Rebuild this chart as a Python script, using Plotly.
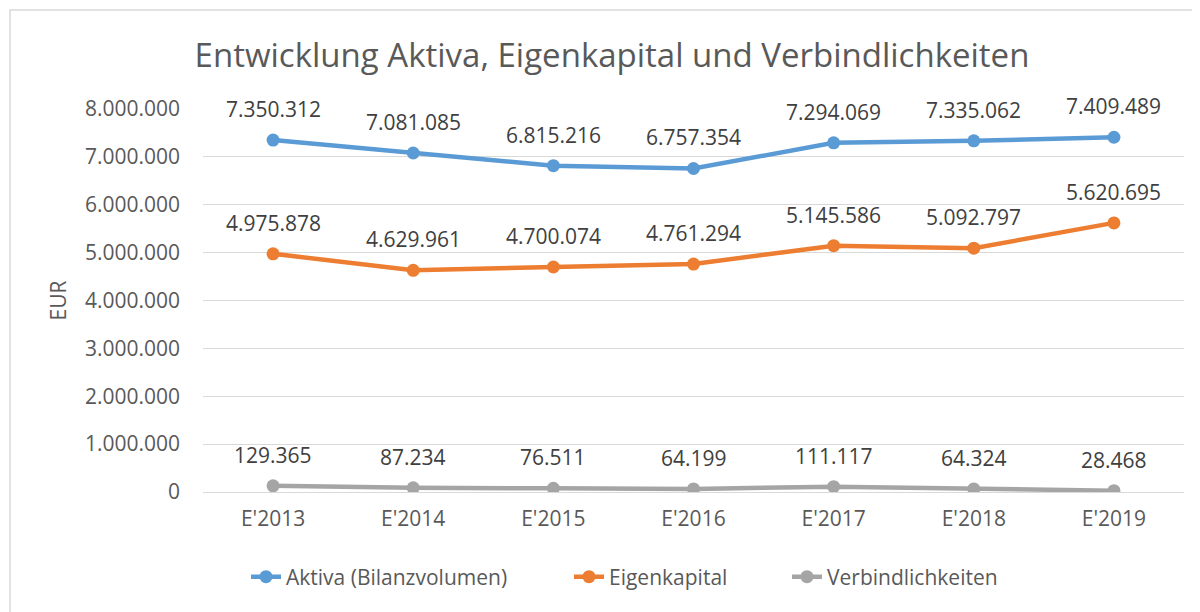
import plotly.graph_objects as go

categories = ["E'2013", "E'2014", "E'2015", "E'2016", "E'2017", "E'2018", "E'2019"]
aktiva = [7350312, 7081085, 6815216, 6757354, 7294069, 7335062, 7409489]
eigenkapital = [4975878, 4629961, 4700074, 4761294, 5145586, 5092797, 5620695]
verbindlichkeiten = [129365, 87234, 76511, 64199, 111117, 64324, 28468]
y_ticks = [0, 1000000, 2000000, 3000000, 4000000, 5000000, 6000000, 7000000, 8000000]

series = [
    ("Aktiva (Bilanzvolumen)", aktiva, "#5B9BD5", "legend"),
    ("Eigenkapital", eigenkapital, "#ED7D31", "legend2"),
    ("Verbindlichkeiten", verbindlichkeiten, "#A5A5A5", "legend3"),
]

def de_fmt(v):
    return f"{v:,}".replace(",", ".")

FONT = "Open Sans"
TXT = "#595959"
FS = 21

fig = go.Figure()
annotations = []
for name, vals, col, lg in series:
    fig.add_trace(go.Scatter(
        x=categories, y=vals, name=name, mode="lines+markers",
        line=dict(color=col, width=4.5),
        marker=dict(color=col, size=13),
        legend=lg,
    ))
    for c, v in zip(categories, vals):
        annotations.append(dict(
            x=c, y=v, xref="x", yref="y", text=de_fmt(v), showarrow=False,
            yshift=31, font=dict(family=FONT, size=FS, color="#404040"),
        ))

# page has an 8px body margin; figure coordinates = page - 8
OFF = 8
FW, FH = 1200, 612
L, R, T, B = 203 - OFF, 1184 - OFF, 109 - OFF, 492 - OFF
W, H = R - L, B - T

def px_x(p):
    return (p - OFF - L) / W

def px_y(p):
    return (B - (p - OFF)) / H

leg_common = dict(orientation="h", yanchor="middle", xanchor="left",
                  font=dict(family=FONT, size=FS, color=TXT), bgcolor="rgba(0,0,0,0)")

fig.update_layout(
    width=FW, height=FH,
    margin=dict(l=L, r=FW - R, t=T, b=FH - B, autoexpand=False),
    paper_bgcolor="white", plot_bgcolor="white",
    font=dict(family=FONT, color=TXT, size=FS),
    title=dict(text="Entwicklung Aktiva, Eigenkapital und Verbindlichkeiten",
               x=(612 - OFF) / FW, xanchor="center", y=1 - (55 - OFF) / FH, yanchor="middle",
               font=dict(family=FONT, size=33, color=TXT)),
    showlegend=True,
    legend=dict(x=px_x(289 - 43), y=px_y(577), **leg_common),
    legend2=dict(x=px_x(612 - 43), y=px_y(577), **leg_common),
    legend3=dict(x=px_x(830 - 43), y=px_y(577), **leg_common),
    annotations=annotations,
    shapes=[dict(type="rect", xref="paper", yref="paper",
                 x0=px_x(10), x1=px_x(1230), y0=px_y(640), y1=px_y(10),
                 line=dict(color="#D9D9D9", width=1.5), fillcolor="rgba(0,0,0,0)",
                 layer="below")],
    xaxis=dict(range=[-0.5, 6.5], showgrid=False, showline=False, zeroline=False, ticks="",
               ticklabelstandoff=12, tickfont=dict(size=FS, color=TXT)),
    yaxis=dict(range=[0, 8000000], tickvals=y_ticks,
               ticktext=[de_fmt(v) for v in y_ticks],
               showgrid=True, gridcolor="#D9D9D9", gridwidth=1,
               zeroline=True, zerolinecolor="#D9D9D9", zerolinewidth=1,
               showline=False, ticks="", ticklabelstandoff=22,
               tickfont=dict(size=FS, color=TXT),
               title=dict(text="EUR", standoff=12, font=dict(size=FS, color=TXT))),
)

fig.write_html("out.html")
